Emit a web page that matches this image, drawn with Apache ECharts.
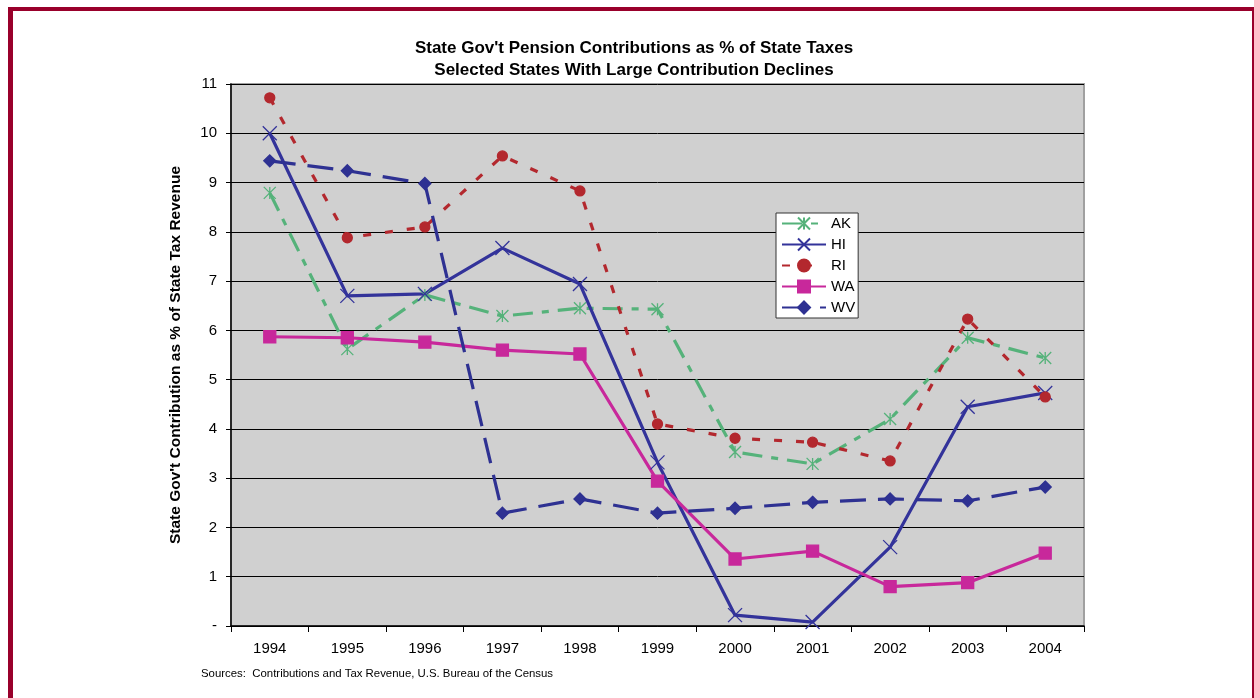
<!DOCTYPE html>
<html>
<head>
<meta charset="utf-8">
<script src="https://cdn.jsdelivr.net/npm/echarts@6/dist/echarts.min.js"></script>
<style>
html,body{margin:0;padding:0;background:#fff;}
#chart{width:1254px;height:698px;}
</style>
</head>
<body>
<div id="chart"></div>
<script>
const years = ['1994','1995','1996','1997','1998','1999','2000','2001','2002','2003','2004'];
const AK = [8.79, 5.62, 6.72, 6.29, 6.45, 6.43, 3.53, 3.29, 4.20, 5.85, 5.44];
const HI = [10.0, 6.70, 6.74, 7.67, 6.94, 3.32, 0.22, 0.08, 1.60, 4.45, 4.73];
const RI = [10.72, 7.88, 8.10, 9.54, 8.83, 4.10, 3.81, 3.73, 3.35, 6.23, 4.65];
const WA = [5.87, 5.85, 5.76, 5.60, 5.52, 2.94, 1.36, 1.52, 0.80, 0.88, 1.48];
const WV = [9.44, 9.24, 8.98, 2.29, 2.58, 2.29, 2.39, 2.51, 2.58, 2.54, 2.82];

const FONT = 'Liberation Sans, Arial, sans-serif';
const chart = echarts.init(document.getElementById('chart'));

function mk(name, data, color, dash, symbol, size) {
  return {
    name: name, type: 'line', data: data,
    symbol: symbol, symbolSize: size,
    lineStyle: {color: color, width: 3.2, type: dash},
    itemStyle: {color: color, borderColor: color, borderWidth: 1.3},
    emphasis: {disabled: true},
    animation: false
  };
}

const xPath = 'path://M0,0L10,10M10,0L0,10';
const astPath = 'path://M0,0L10,10M10,0L0,10M5,0L5,10';

chart.setOption({
  animation: false,
  textStyle: {fontFamily: FONT},
  title: {
    text: "State Gov't Pension Contributions as % of State Taxes\nSelected States With Large Contribution Declines",
    left: 634, top: 37, textAlign: 'center', padding: 0,
    textStyle: {fontSize: 17, fontWeight: 'bold', color: '#000', lineHeight: 22, fontFamily: FONT}
  },
  legend: {
    orient: 'vertical', left: 776, top: 213,
    backgroundColor: '#fff', borderColor: '#333', borderWidth: 1,
    padding: [3, 3, 3, 5], itemGap: 6, itemWidth: 44, itemHeight: 15,
    textStyle: {fontSize: 15, color: '#000', fontFamily: FONT},
    data: ['AK','HI','RI','WA','WV']
  },
  grid: {
    left: 231, right: 170, top: 84, bottom: 72,
    show: true, backgroundColor: '#d0d0d0', borderColor: '#a0a0a0', borderWidth: 2
  },
  xAxis: {
    type: 'category', data: years, boundaryGap: true,
    axisLine: {lineStyle: {color: '#000', width: 1.5}},
    axisTick: {show: true, length: 6, lineStyle: {color: '#000'}},
    axisLabel: {fontSize: 15, color: '#000', margin: 15, fontFamily: FONT}
  },
  yAxis: {
    type: 'value', min: 0, max: 11, interval: 1,
    name: "State Gov't Contribution as % of State Tax Revenue",
    nameLocation: 'middle', nameGap: 47, nameRotate: 90,
    nameTextStyle: {fontSize: 15.5, fontWeight: 'bold', color: '#000', fontFamily: FONT},
    axisLine: {show: true, lineStyle: {color: '#000', width: 1.5}},
    axisTick: {show: true, length: 5, lineStyle: {color: '#000'}},
    axisLabel: {fontSize: 15, color: '#000', margin: 14, fontFamily: FONT,
      formatter: v => v === 0 ? '-' : String(v)},
    splitLine: {show: true, lineStyle: {color: '#000', width: 1}}
  },
  graphic: [
    {type: 'rect', shape: {x: 8, y: 7, width: 5, height: 691}, style: {fill: '#99002b'}, z: 100},
    {type: 'rect', shape: {x: 8, y: 7, width: 1246, height: 4}, style: {fill: '#99002b'}, z: 100},
    {type: 'rect', shape: {x: 1252, y: 7, width: 2, height: 691}, style: {fill: '#99002b'}, z: 100},
    {type: 'text', left: 201, top: 668, style: {text: 'Sources:  Contributions and Tax Revenue, U.S. Bureau of the Census', fill: '#000', font: '11.4px ' + FONT}}
  ],
  series: [
    mk('AK', AK, '#55b27a', [20, 9, 7, 9], astPath, 12),
    mk('HI', HI, '#33339a', 'solid', xPath, 14),
    mk('RI', RI, '#b3282e', [8, 14], 'circle', 10),
    mk('WA', WA, '#c8289b', 'solid', 'rect', 12),
    mk('WV', WV, '#2e3192', [26, 12], 'diamond', 12)
  ]
});
</script>
</body>
</html>
